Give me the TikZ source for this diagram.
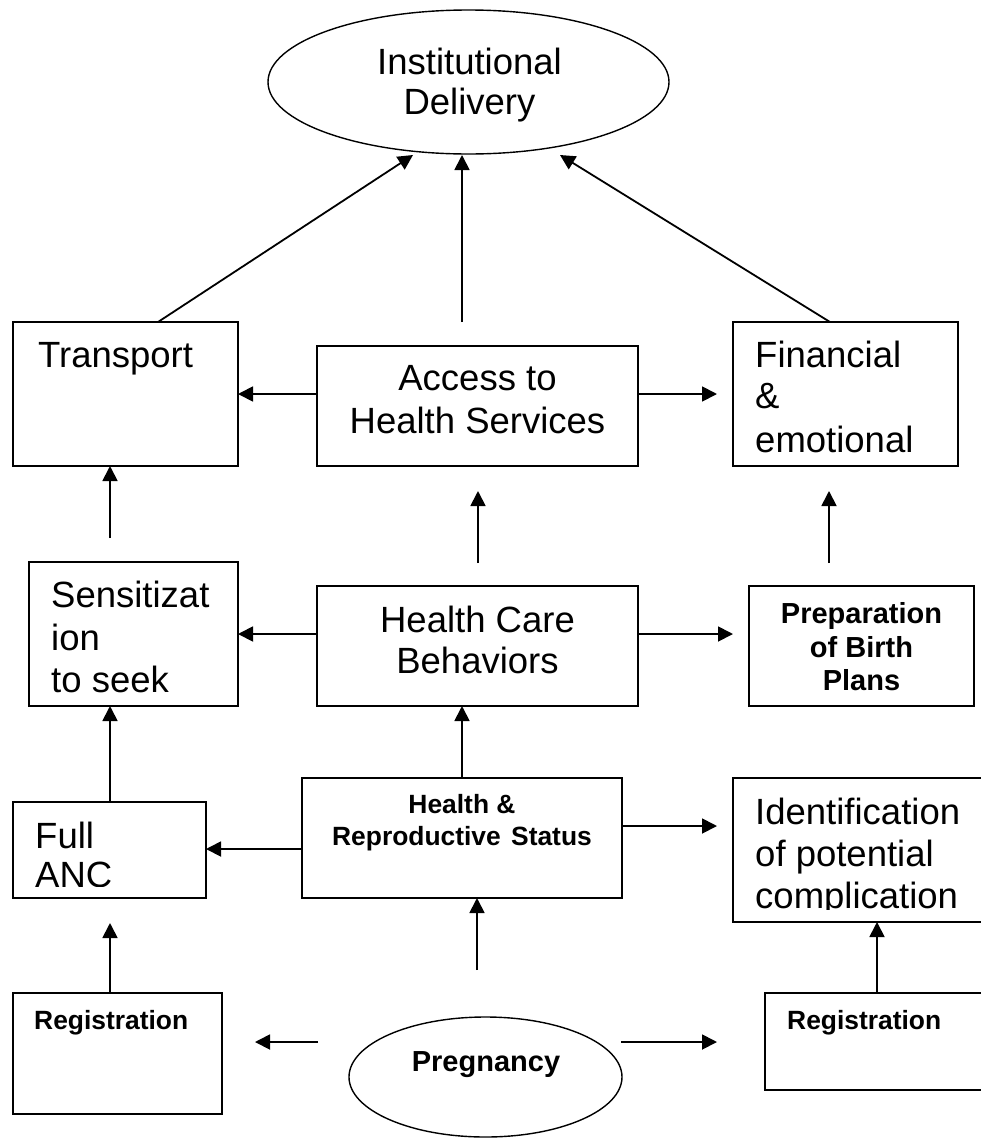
\documentclass[tikz,border=0pt]{standalone}
\usepackage{fontspec}
\setmainfont{Liberation Sans}
\usetikzlibrary{arrows.meta,shapes.geometric}
\begin{document}
\begin{tikzpicture}[x=1pt,y=-1pt,
  box/.style={draw, line width=1.9pt, rectangle, inner sep=0pt, outer sep=0pt},
  oval/.style={draw, line width=1.4pt, ellipse, inner sep=0pt, outer sep=0pt},
  arr/.style={line width=1.8pt, -{Triangle[length=15pt,width=15pt]}},
  big/.style={inner sep=0pt, font=\fontsize{36.5}{42}\selectfont},
  boldA/.style={inner sep=0pt, font=\fontsize{26.4}{30}\selectfont\bfseries},
  boldB/.style={inner sep=0pt, font=\fontsize{29}{33}\selectfont\bfseries}
]
\useasboundingbox (0,0) rectangle (981,1138);
\clip (0,0) rectangle (981,1138);

% ---------- shapes ----------
\node[oval, minimum width=401pt, minimum height=144pt] (inst) at (468.5,82) {};
\node[box, minimum width=225pt, minimum height=144pt] (transport) at (125.5,394) {};
\node[box, minimum width=321pt, minimum height=120pt] (access) at (477.5,406) {};
\node[box, minimum width=225pt, minimum height=144pt] (financial) at (845.5,394) {};
\node[box, minimum width=209pt, minimum height=144pt] (sens) at (133.5,634) {};
\node[box, minimum width=321pt, minimum height=120pt] (hcb) at (477.5,646) {};
\node[box, minimum width=225pt, minimum height=120pt] (prep) at (861.5,646) {};
\node[box, minimum width=193pt, minimum height=96pt] (anc) at (109.5,850) {};
\node[box, minimum width=320pt, minimum height=120pt] (hrs) at (462,838) {};
\node[box, minimum width=267pt, minimum height=144pt] (ident) at (866.5,850) {};
\node[box, minimum width=209pt, minimum height=121pt] (regl) at (117.5,1053.5) {};
\node[box, minimum width=235pt, minimum height=97pt] (regr) at (882.5,1041.5) {};
\node[oval, minimum width=273pt, minimum height=120pt] (preg) at (485.5,1077) {};

% ---------- texts ----------
\node[big, anchor=base] (inst1) at (469.5,74) {Institutional};
\node[big, anchor=base] (inst2) at (469.5,114) {Delivery};

\node[big, anchor=base west] (tr1) at (38,367) {Transport};

\node[big, anchor=base] (ac1) at (477.5,390) {Access to};
\node[big, anchor=base] (ac2) at (477.5,433) {Health Services};

\node[big, anchor=base west] (fi1) at (755,367) {Financial};
\node[big, anchor=base west] (fi2) at (755,408) {\&};
\node[big, anchor=base west] (fi3) at (755,452) {emotional};

\node[big, anchor=base west] (se1) at (51,607) {Sensitizat};
\node[big, anchor=base west] (se2) at (51,650) {ion};
\node[big, anchor=base west] (se3) at (51,692) {to seek};

\node[big, anchor=base] (hc1) at (477.5,632) {Health Care};
\node[big, anchor=base] (hc2) at (477.5,673) {Behaviors};

\node[boldB, anchor=base] (pr1) at (861.5,623) {Preparation};
\node[boldB, anchor=base] (pr2) at (861.5,657) {of Birth};
\node[boldB, anchor=base] (pr3) at (861.5,690) {Plans};

\node[big, anchor=base west] (an1) at (35,848) {Full};
\begin{scope}
  \clip (20,850) rectangle (200,886.5);
  \node[big, anchor=base west] (an2) at (35,887.5) {ANC};
\end{scope}

\node[boldA, anchor=base] (hr1) at (462,813) {Health \&};
\node[boldA, anchor=base] (hr2) at (462,845) {Reproductive\hspace{3pt} Status};

\node[big, anchor=base west] (id1) at (755,824) {Identification};
\node[big, anchor=base west] (id2) at (755,866) {of potential};
\begin{scope}
  \clip (740,870) rectangle (981,909);
  \node[big, anchor=base west] (id3) at (755,908) {complication};
\end{scope}

\node[boldA, anchor=base west] (rl1) at (34,1029) {Registration};
\node[boldB, anchor=base] (pg1) at (486,1071) {Pregnancy};
\node[boldA, anchor=base west] (rr1) at (787,1029) {Registration};

% ---------- free arrow ends ----------
\coordinate (c1s) at (158,322);  \coordinate (c1e) at (413,155);
\coordinate (c2s) at (462,322);  \coordinate (c2e) at (462,155);
\coordinate (c3s) at (830,322);  \coordinate (c3e) at (560,155);
\coordinate (c5e) at (717,394);
\coordinate (c6s) at (110,538);
\coordinate (c7s) at (478,563);  \coordinate (c7e) at (478,491);
\coordinate (c8s) at (829,563);  \coordinate (c8e) at (829,491);
\coordinate (c10e) at (733,634);
\coordinate (c14e) at (717,826);
\coordinate (c15s) at (477,970);
\coordinate (c16e) at (110,923);
\coordinate (c17s) at (318,1042); \coordinate (c17e) at (255,1042);
\coordinate (c18s) at (621,1042); \coordinate (c18e) at (717,1042);

% ---------- connectors ----------
\draw[arr] (c1s) -- (c1e);
\draw[arr] (c2s) -- (c2e);
\draw[arr] (c3s) -- (c3e);
\draw[arr] (access.west |- 0,394) -- (transport.east |- 0,394);
\draw[arr] (access.east |- 0,394) -- (c5e);
\draw[arr] (c6s) -- (transport.south -| 110,0);
\draw[arr] (c7s) -- (c7e);
\draw[arr] (c8s) -- (c8e);
\draw[arr] (hcb.west |- 0,634) -- (sens.east |- 0,634);
\draw[arr] (hcb.east |- 0,634) -- (c10e);
\draw[arr] (hrs.north) -- (hcb.south -| hrs.north);
\draw[arr] (anc.north -| 110,0) -- (sens.south -| 110,0);
\draw[arr] (hrs.west |- 0,849) -- (anc.east |- 0,849);
\draw[arr] (hrs.east |- 0,826) -- (c14e);
\draw[arr] (c15s) -- (hrs.south -| 477,0);
\draw[arr] (regl.north -| 110,0) -- (c16e);
\draw[arr] (c17s) -- (c17e);
\draw[arr] (c18s) -- (c18e);
\draw[arr] (regr.north -| 877,0) -- (ident.south -| 877,0);
\end{tikzpicture}
\end{document}
